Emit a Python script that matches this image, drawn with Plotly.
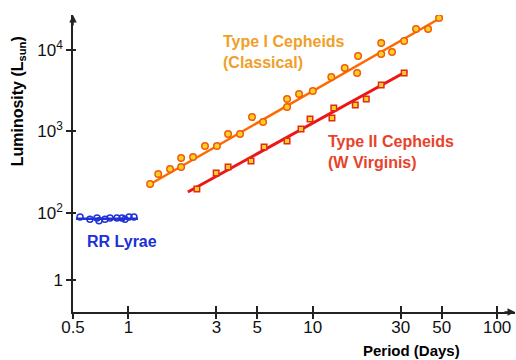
import plotly.graph_objects as go
import math

# ---- data (Period in days, Luminosity in L_sun) ----
type1_period = [1.31, 1.45, 1.68, 1.93, 1.93, 2.24, 2.60, 3.02, 3.47, 4.03, 4.68, 5.37,
                7.25, 7.25, 8.42, 10.0, 12.6, 14.9, 17.4, 17.6, 23.5, 23.5, 26.9, 31.3,
                36.3, 42.2, 48.4]
type1_lum = [227, 301, 347, 473, 367, 487, 664, 664, 932, 932, 1506, 1308,
             2505, 1998, 2885, 3141, 4664, 6013, 5222, 8440, 12185, 8930, 9451, 12894,
             18095, 18095, 24695]
type1_fit_period = [1.26, 50.3]
type1_fit_lum = [214, 25400]

type2_period = [2.35, 2.99, 3.47, 4.62, 5.44, 7.25, 8.63, 9.66, 12.7, 13.0, 17.0, 19.5, 23.5, 31.3]
type2_lum = [197, 310, 367, 435, 645, 764, 1073, 1424, 1464, 1942, 2115, 2505, 3720, 5222]
type2_fit_period = [2.10, 32.5]
type2_fit_lum = [181, 5525]

rr_period = [0.546, 0.618, 0.675, 0.692, 0.746, 0.794, 0.866, 0.922, 0.957, 1.007, 1.07]
rr_lum = [89, 84, 87, 80, 84, 87, 87, 87, 84, 89, 89]
rr_fit_period = [0.519, 1.126]
rr_fit_lum = [85, 85]

x_tickvals = [0.5, 1, 3, 5, 10, 30, 50, 100]
x_ticktext = ["0.5", "1", "3", "5", "10", "30", "50", "100"]
y_tickvals = [15.1, 100, 1000, 10000]
y_ticktext = ["1", "10<sup>2</sup>", "10<sup>3</sup>", "10<sup>4</sup>"]

x_range = [math.log10(0.5), math.log10(125)]
y_range = [0.785, 4.429]

ORANGE_LINE = "#FF6A00"
ORANGE_EDGE = "#F05A10"
RED_LINE = "#EE1515"
RED_EDGE = "#E02A1A"
YELLOW = "#FFD21F"
BLUE = "#2030D8"
FONT = "Liberation Sans, Arial, sans-serif"

fig = go.Figure()

fig.add_trace(go.Scatter(x=type1_fit_period, y=type1_fit_lum, mode="lines",
                         line=dict(color=ORANGE_LINE, width=2.5), hoverinfo="skip"))
fig.add_trace(go.Scatter(x=type2_fit_period, y=type2_fit_lum, mode="lines",
                         line=dict(color=RED_LINE, width=3), hoverinfo="skip"))
fig.add_trace(go.Scatter(x=rr_fit_period, y=rr_fit_lum, mode="lines",
                         line=dict(color=BLUE, width=2.5), hoverinfo="skip"))

fig.add_trace(go.Scatter(x=type1_period, y=type1_lum, mode="markers",
                         marker=dict(symbol="circle", size=6.5, color=YELLOW,
                                     line=dict(color=ORANGE_EDGE, width=1.5))))
fig.add_trace(go.Scatter(x=type2_period, y=type2_lum, mode="markers",
                         marker=dict(symbol="square", size=5.5, color=YELLOW,
                                     line=dict(color=RED_EDGE, width=1.5))))
fig.add_trace(go.Scatter(x=rr_period, y=rr_lum, mode="markers",
                         marker=dict(symbol="circle-open", size=6, color=BLUE,
                                     line=dict(color=BLUE, width=1.5))))

# invisible trace so the overlay axes (inner half of crossing ticks) are drawn
fig.add_trace(go.Scatter(x=[1], y=[100], xaxis="x2", yaxis="y2", mode="markers",
                         marker=dict(opacity=0), hoverinfo="skip"))

fig.update_layout(
    width=516, height=360,
    margin=dict(l=73, r=1, t=15, b=48),
    paper_bgcolor="white", plot_bgcolor="white",
    showlegend=False,
    font=dict(family=FONT, color="black"),
    xaxis=dict(type="log", range=x_range, tickvals=x_tickvals, ticktext=x_ticktext,
               showgrid=False, zeroline=False, showline=True, linecolor="#222",
               linewidth=1.5, ticks="outside", ticklen=5, tickwidth=1.5, tickcolor="#222",
               ticklabelstandoff=-6,
               tickfont=dict(size=17, family=FONT, color="#111")),
    yaxis=dict(type="log", range=y_range, tickvals=y_tickvals, ticktext=y_ticktext,
               showgrid=False, zeroline=False, showline=True, linecolor="#222",
               linewidth=1.5, ticks="outside", ticklen=5, tickwidth=1.5, tickcolor="#222",
               tickfont=dict(size=17, family=FONT, color="#111")),
    xaxis2=dict(type="log", range=x_range, tickvals=x_tickvals, overlaying="x",
                showticklabels=False, showgrid=False, zeroline=False, showline=False,
                ticks="inside", ticklen=6, tickwidth=1.5, tickcolor="#222", side="bottom"),
    yaxis2=dict(type="log", range=y_range, tickvals=y_tickvals, overlaying="y",
                showticklabels=False, showgrid=False, zeroline=False, showline=False,
                ticks="inside", ticklen=3, tickwidth=1.5, tickcolor="#222", side="left"),
)

ann = [
    dict(text="Type I Cepheids<br>(Classical)", xref="paper", yref="paper",
         x=0.335, y=0.945, xanchor="left", yanchor="top", align="left", showarrow=False,
         font=dict(size=16, color="#F0A02A", family=FONT, weight="bold")),
    dict(text="Type II Cepheids<br>(W Virginis)", xref="paper", yref="paper",
         x=0.572, y=0.608, xanchor="left", yanchor="top", align="left", showarrow=False,
         font=dict(size=16, color="#E8432A", family=FONT, weight="bold")),
    dict(text="RR Lyrae", xref="paper", yref="paper",
         x=0.028, y=0.236, xanchor="left", yanchor="middle", showarrow=False,
         font=dict(size=16, color=BLUE, family=FONT, weight="bold")),
    dict(text="Luminosity (L<sub>sun</sub>)", xref="paper", yref="paper",
         x=-0.124, y=0.71, xanchor="center", yanchor="middle", textangle=-90,
         showarrow=False, font=dict(size=16, color="black", family=FONT, weight="bold")),
    dict(text="Period (Days)", xref="paper", yref="paper",
         x=0.765, y=-0.128, xanchor="center", yanchor="middle",
         showarrow=False, font=dict(size=15, color="black", family=FONT, weight="bold")),
    dict(text="", xref="paper", yref="paper", x=0, y=1, ax=0, ay=12,
         showarrow=True, arrowhead=2, arrowsize=1, arrowwidth=1.5, arrowcolor="#222"),
    dict(text="", xref="paper", yref="paper", x=1, y=0, ax=-12, ay=0,
         showarrow=True, arrowhead=2, arrowsize=1, arrowwidth=1.5, arrowcolor="#222"),
]
fig.update_layout(annotations=ann)

fig.write_html("out.html")
